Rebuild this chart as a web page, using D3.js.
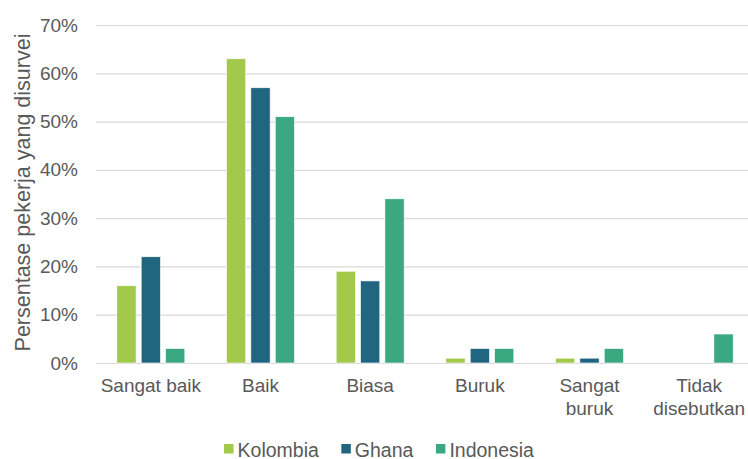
<!DOCTYPE html>
<html>
<head>
<meta charset="utf-8">
<script src="https://cdn.jsdelivr.net/npm/d3@7"></script>
<style>
  html, body { margin: 0; padding: 0; background: #fff; }
  svg { display: block; font-family: "Liberation Sans", Arial, sans-serif; }
</style>
</head>
<body>
<svg id="chart" width="748" height="459"></svg>
<script>
// Penilaian kondisi kerja menurut negara (persentase pekerja)
const categories = [["Sangat baik"], ["Baik"], ["Biasa"], ["Buruk"], ["Sangat", "buruk"], ["Tidak", "disebutkan"]];
const seriesNames = ["Kolombia", "Ghana", "Indonesia"];
const kolombia = [16, 63, 19, 1, 1, 0];
const ghana = [22, 57, 17, 3, 1, 0];
const indonesia = [3, 51, 34, 3, 3, 6];
const yTicks = [0, 10, 20, 30, 40, 50, 60, 70];
const colors = ["#a2c94a", "#216680", "#3aa880"];

const seriesValues = [kolombia, ghana, indonesia];
const catKeys = categories.map(c => c.join(" "));

const svg = d3.select("#chart");
const textColor = "#595959";

const x0 = d3.scaleBand().domain(catKeys).range([96, 754]).paddingInner(0).paddingOuter(0);
const step = x0.bandwidth();
const groupW = 68;
const x1 = d3.scaleBand().domain(seriesNames)
  .range([(step - groupW) / 2, (step + groupW) / 2])
  .paddingInner(0.21).paddingOuter(0);
const y = d3.scaleLinear().domain([0, 70]).range([363, 25]);

// Gridlines and y tick labels
const yAxis = d3.axisLeft(y).tickValues(yTicks).tickFormat(d => d + "%").tickSize(-(748 - 96)).tickPadding(18);
const gy = svg.append("g").attr("transform", "translate(96,0)").call(yAxis);
gy.select(".domain").remove();
gy.selectAll(".tick line").attr("stroke", "#d9d9d9").attr("stroke-width", 1.2);
gy.selectAll(".tick text").attr("fill", textColor).style("font-size", "19px");

// Bars
const groups = svg.append("g").selectAll("g")
  .data(catKeys)
  .join("g")
  .attr("transform", d => `translate(${x0(d)},0)`);

groups.selectAll("rect")
  .data((d, i) => seriesNames.map((s, j) => ({ s, j, v: seriesValues[j][i] })).filter(e => e.v > 0))
  .join("rect")
  .attr("x", d => x1(d.s))
  .attr("width", x1.bandwidth())
  .attr("y", d => y(d.v))
  .attr("height", d => y(0) - y(d.v))
  .attr("fill", d => colors[d.j])
  .attr("stroke", "#ffffff")
  .attr("stroke-width", 0.6);

// Category labels
const catLabels = svg.append("g").selectAll("text")
  .data(categories)
  .join("text")
  .attr("x", (d, i) => x0(catKeys[i]) + step / 2)
  .attr("y", 392)
  .attr("text-anchor", "middle")
  .attr("fill", textColor)
  .style("font-size", "19px");
catLabels.selectAll("tspan")
  .data(d => d)
  .join("tspan")
  .attr("x", function () { return this.parentNode.getAttribute("x"); })
  .attr("dy", (d, i) => i === 0 ? 0 : 23)
  .text(d => d);

// Y axis title
svg.append("text")
  .attr("transform", "translate(30,192.5) rotate(-90)")
  .attr("text-anchor", "middle")
  .attr("fill", textColor)
  .style("font-size", "21.5px")
  .text("Persentase pekerja yang disurvei");

// Legend
const legend = svg.append("g");
const items = legend.selectAll("g").data(seriesNames).join("g");
items.append("rect")
  .attr("width", 9.5).attr("height", 9.5)
  .attr("y", 444)
  .attr("fill", (d, i) => colors[i]);
items.append("text")
  .attr("x", 13.5)
  .attr("y", 456.5)
  .attr("fill", textColor)
  .style("font-size", "19.5px")
  .text(d => d);
let cursor = 0;
const offsets = [];
items.each(function () {
  offsets.push(cursor);
  const w = this.querySelector("text").getComputedTextLength();
  cursor += 13.5 + w + 22.5;
});
const totalW = cursor - 22.5;
const startX = 379 - totalW / 2;
items.attr("transform", (d, i) => `translate(${startX + offsets[i]},0)`);
</script>
</body>
</html>
